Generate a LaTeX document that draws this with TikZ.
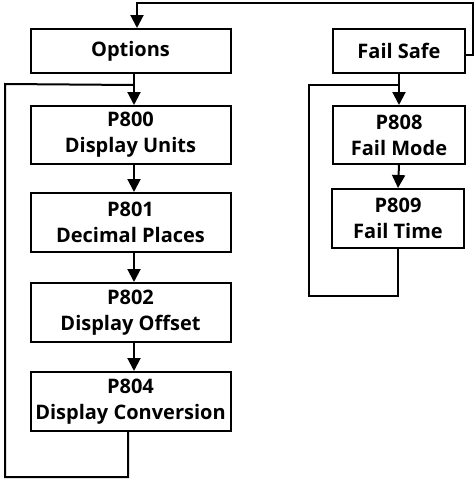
\documentclass[tikz,border=0pt]{standalone}
\usepackage{fontspec}
\setmainfont{Open Sans}
\usepackage{tikz}
\usetikzlibrary{arrows.meta,positioning,calc}

\tikzset{
  menubox/.style={draw, line width=2pt, inner sep=0pt, align=center,
    font=\bfseries\fontsize{20}{26}\selectfont},
  flow/.style={line width=2pt, -{Triangle[length=13pt,width=13pt]}},
  wire/.style={line width=2pt}
}

\begin{document}
\begin{tikzpicture}[x=1pt,y=-1pt]
    \useasboundingbox (0,0) rectangle (474,479);
    % Box sizes
    \def\wideW{200}
    \def\narrowW{132}
    % Options chain
    \node[menubox, minimum width=\wideW, minimum height=44] (opt) at (130.5,51) {Options};
    \node[menubox, minimum width=\wideW, minimum height=58] (p800) at (130.5,135) {P800\\Display Units};
    \node[menubox, minimum width=\wideW, minimum height=59] (p801) at (130.5,222.5) {P801\\Decimal Places};
    \node[menubox, minimum width=\wideW, minimum height=59] (p802) at (130.5,312.5) {P802\\Display Offset};
    \node[menubox, minimum width=\wideW, minimum height=59] (p804) at (130.5,401.5) {P804\\Display Conversion};
    % Fail safe chain
    \node[menubox, minimum width=\narrowW, minimum height=44] (fs) at (399,51) {Fail Safe};
    \node[menubox, minimum width=\narrowW, minimum height=58] (p808) at (399,135) {P808\\Fail Mode};
    \node[menubox, minimum width=\narrowW, minimum height=59] (p809) at (398,218.5) {P809\\Fail Time};

    % Arrows down the options chain
    \draw[flow] ([xshift=3.5]opt.south) -- ([xshift=3.5]p800.north);
    \draw[flow] ([xshift=3.5]p800.south) -- ([xshift=3.5]p801.north);
    \draw[flow] ([xshift=3.5]p801.south) -- ([xshift=3.5]p802.north);
    \draw[flow] ([xshift=3.5]p802.south) -- ([xshift=3.5]p804.north);
    % Arrows down the fail safe chain
    \draw[flow] (fs.south) -- (p808.north);
    \draw[flow] (p808.south) -- (p809.north);

    % Return loops
    \coordinate (optjoin) at ($([xshift=3.5]opt.south)+(0,11)$);
    \draw[wire] ([xshift=-2.5]p804.south) |- (5,477) -- (5,84) -- (optjoin);
    \coordinate (fsjoin) at ($(fs.south)+(0,11)$);
    \draw[wire] (p809.south) |- (309,296) |- (fsjoin);
    % From fail safe back to options
    \draw[flow] ([yshift=-4]fs.east) -| (473,3) -| ([xshift=6.5]opt.north);
\end{tikzpicture}
\end{document}
